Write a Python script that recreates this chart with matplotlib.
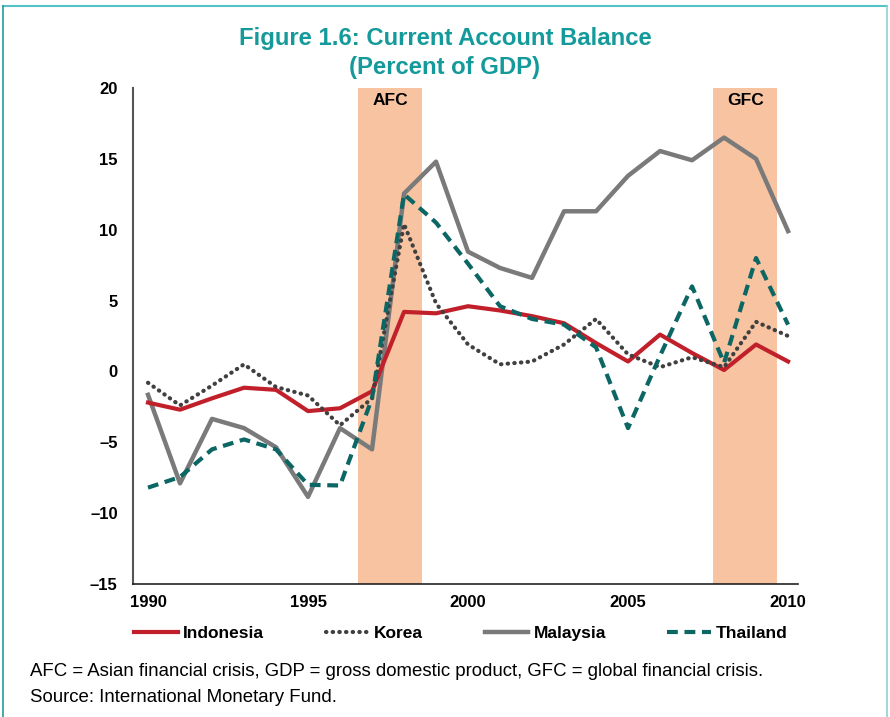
import matplotlib
matplotlib.use("Agg")
import matplotlib.pyplot as plt
from matplotlib.lines import Line2D

plt.rcParams['font.family'] = ['Liberation Sans', 'DejaVu Sans']

years = list(range(1990, 2011))
indonesia = [-2.2, -2.7, -1.9, -1.15, -1.3, -2.8, -2.6, -1.4, 4.2, 4.1, 4.6,
             4.3, 3.9, 3.4, 2.0, 0.7, 2.6, 1.3, 0.1, 1.9, 0.7]
korea = [-0.8, -2.4, -1.0, 0.5, -1.1, -1.7, -3.8, -1.9, 10.4, 4.8, 1.9,
         0.5, 0.7, 1.9, 3.7, 1.2, 0.3, 1.0, 0.3, 3.5, 2.5]
malaysia = [-1.65, -7.9, -3.35, -4.0, -5.35, -8.85, -4.0, -5.5, 12.55, 14.8, 8.45,
            7.3, 6.6, 11.3, 11.3, 13.8, 15.55, 14.9, 16.5, 15.0, 9.9]
thailand = [-8.2, -7.45, -5.5, -4.8, -5.5, -8.0, -8.05, -1.9, 12.5, 10.5, 7.6,
            4.6, 3.7, 3.3, 1.7, -4.0, 1.1, 6.0, 0.6, 8.0, 3.3]
series_names = ['Indonesia', 'Korea', 'Malaysia', 'Thailand']
crisis_labels = ['AFC', 'GFC']
crisis_spans = [(1996.56, 1998.56), (2007.66, 2009.66)]
xticks = [1990, 1995, 2000, 2005, 2010]
yticks = [-15, -10, -5, 0, 5, 10, 15, 20]

teal = '#149A9A'

fig = plt.figure(figsize=(8.9, 7.17), dpi=100)
ax = fig.add_axes([0.1494, 0.1855, 0.8966 - 0.1494, 0.8773 - 0.1855])

for (a, b), lab in zip(crisis_spans, crisis_labels):
    ax.axvspan(a, b, color='#F7C3A1', lw=0, zorder=0)
    ax.text((a + b) / 2, 19.1, lab, ha='center', va='center',
            fontsize=12.5, fontweight='bold', color='black')

l1, = ax.plot(years, indonesia, color='#C1202B', lw=3, zorder=3)
l2, = ax.plot(years, korea, color='#404040', lw=3, linestyle=(0, (0.1, 1.5)),
              dash_capstyle='round', zorder=3)
l3, = ax.plot(years, malaysia, color='#7A7A7A', lw=3.2, zorder=2)
l4, = ax.plot(years, thailand, color='#0B6664', lw=3, linestyle=(0, (2.6, 1.6)),
              zorder=4)

ax.set_xlim(1989.53, 2010.31)
ax.set_ylim(-15, 20)
ax.set_xticks(xticks)
ax.set_xticklabels([str(v) for v in xticks], fontsize=12, fontweight='bold')
ax.set_yticks(yticks)
ax.set_yticklabels([str(v).replace('-', '\u2013') for v in yticks],
                   fontsize=12, fontweight='bold')
ax.tick_params(length=0, pad=11)
ax.tick_params(axis='x', pad=8)
for s in ['top', 'right']:
    ax.spines[s].set_visible(False)
ax.spines['left'].set_color('#555555')
ax.spines['left'].set_linewidth(1.5)
ax.spines['bottom'].set_color('#222222')
ax.spines['bottom'].set_linewidth(1.2)

fig.legend([l1, l2, l3, l4], series_names, loc='center',
           bbox_to_anchor=(0.518, 0.1165), ncol=4, frameon=False,
           prop={'weight': 'bold', 'size': 12.5}, handlelength=2.5,
           columnspacing=3.55, handletextpad=0.3)

fig.text(0.5, 0.947, 'Figure 1.6: Current Account Balance', ha='center',
         va='center', fontsize=17.2, fontweight='bold', color=teal)
fig.text(0.5, 0.906, '(Percent of GDP)', ha='center', va='center',
         fontsize=17.2, fontweight='bold', color=teal)

fig.text(30 / 890, 1 - 672 / 717, 'AFC = Asian financial crisis, GDP = gross domestic product, '
         'GFC = global financial crisis.', ha='left', va='center', fontsize=13.4)
fig.text(30 / 890, 1 - 697 / 717, 'Source: International Monetary Fund.',
         ha='left', va='center', fontsize=13.4)

# frame lines
fig.add_artist(Line2D([3 / 890, 887 / 890], [1 - 6 / 717, 1 - 6 / 717],
                      transform=fig.transFigure, color='#55C3C6', lw=1.5))
fig.add_artist(Line2D([3 / 890, 3 / 890], [0, 1 - 6 / 717],
                      transform=fig.transFigure, color='#2A9A9C', lw=1.2))
fig.add_artist(Line2D([887 / 890, 887 / 890], [0, 1 - 6 / 717],
                      transform=fig.transFigure, color='#8FD3D5', lw=1.2))

fig.savefig('out.png', dpi=100)
